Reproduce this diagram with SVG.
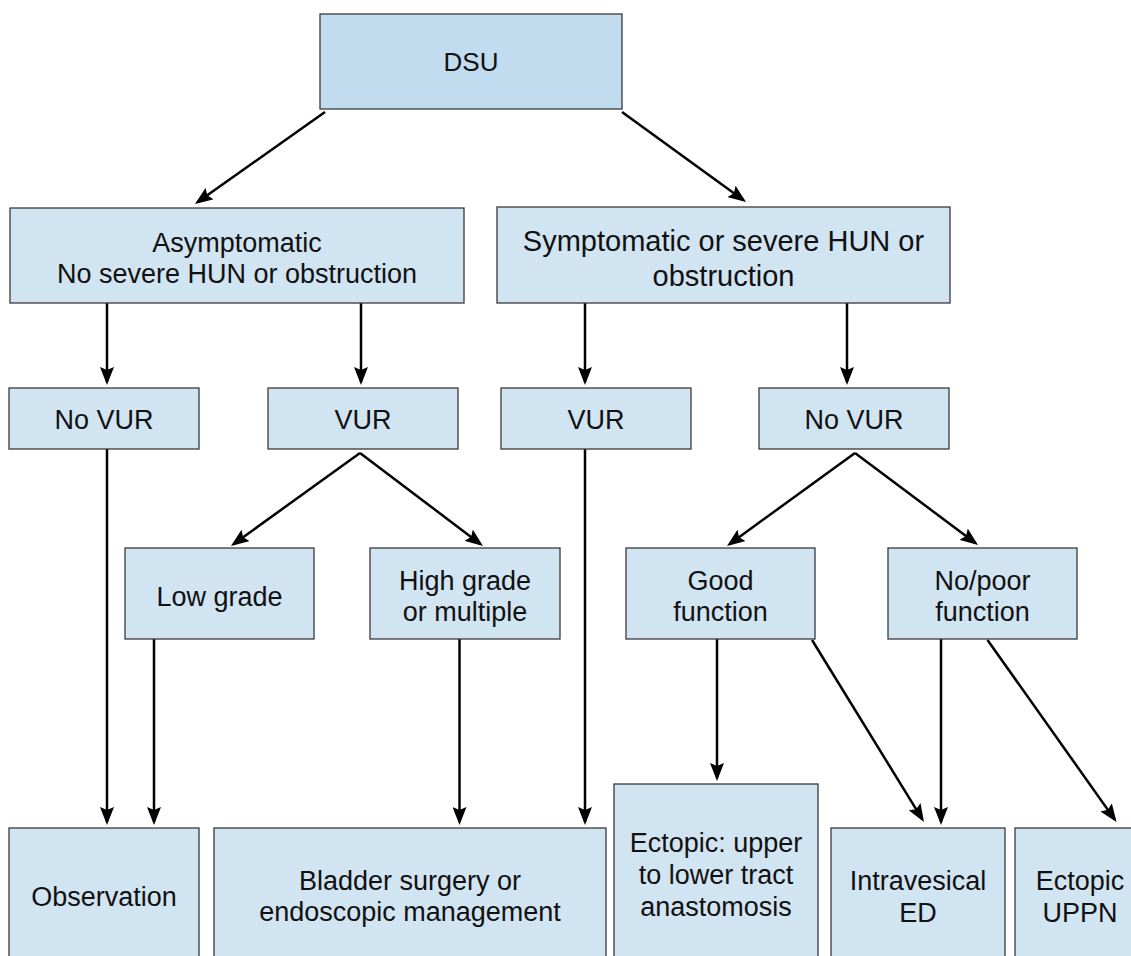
<svg xmlns="http://www.w3.org/2000/svg" width="1131" height="956" viewBox="0 0 1131 956">
<style>
.box{fill:#d1e4f2;stroke:#3a3a3a;stroke-width:1.3}
.top{fill:#c1dcee}
text{font-family:"Liberation Sans",Arial,Helvetica,sans-serif;font-size:27px;fill:#111;text-anchor:middle}
.big{font-size:29px}
.dsu{font-size:26px}
.edge{stroke:#000;stroke-width:2.5;fill:none;marker-end:url(#ah)}
</style>
<defs>
<marker id="ah" markerUnits="userSpaceOnUse" viewBox="0 0 18 14" refX="15" refY="7" markerWidth="18" markerHeight="14" orient="auto">
<path d="M0,0 L18,7 L0,14 L3,7 z" fill="#000"/>
</marker>
</defs>
<rect width="1131" height="956" fill="#fff"/>
<g id="connectors">
<line class="edge" x1="325" y1="112" x2="197.4" y2="202.3"/>
<line class="edge" x1="622" y1="112" x2="743.6" y2="200.2"/>
<line class="edge" x1="107" y1="303" x2="107" y2="382"/>
<line class="edge" x1="361" y1="303" x2="361" y2="382"/>
<line class="edge" x1="585" y1="303" x2="585" y2="382"/>
<line class="edge" x1="847" y1="303" x2="847" y2="382"/>
<line class="edge" x1="360" y1="453" x2="233.4" y2="544.2"/>
<line class="edge" x1="360" y1="453" x2="480.6" y2="544.2"/>
<line class="edge" x1="855" y1="453" x2="729.4" y2="544.2"/>
<line class="edge" x1="855" y1="453" x2="975.6" y2="543.2"/>
<line class="edge" x1="107" y1="449" x2="107" y2="822"/>
<line class="edge" x1="154" y1="639" x2="154" y2="822"/>
<line class="edge" x1="459.5" y1="639" x2="459.5" y2="822"/>
<line class="edge" x1="585" y1="449" x2="585" y2="822"/>
<line class="edge" x1="717" y1="639" x2="717" y2="778"/>
<line class="edge" x1="812" y1="640" x2="922.4" y2="819.4"/>
<line class="edge" x1="941" y1="639" x2="941" y2="822"/>
<line class="edge" x1="987.5" y1="640" x2="1114.8" y2="819.6"/>
</g>
<g id="n-dsu"><rect class="box top" x="320" y="14" width="302" height="95"/><text class="dsu" x="471" y="71">DSU</text></g>
<g id="n-asym"><rect class="box" x="10" y="208" width="454" height="95"/><text x="237" y="251.5">Asymptomatic</text><text x="237" y="282.5">No severe HUN or obstruction</text></g>
<g id="n-symp"><rect class="box" x="497" y="207" width="453" height="96"/><text class="big" x="723.5" y="250.5">Symptomatic or severe HUN or</text><text class="big" x="723.5" y="285.5">obstruction</text></g>
<g id="n-novur1"><rect class="box" x="9" y="388" width="190" height="61"/><text x="104" y="428.5">No VUR</text></g>
<g id="n-vur1"><rect class="box" x="268" y="388" width="190" height="61"/><text x="363" y="428.5">VUR</text></g>
<g id="n-vur2"><rect class="box" x="501" y="388" width="190" height="61"/><text x="596" y="428.5">VUR</text></g>
<g id="n-novur2"><rect class="box" x="759" y="388" width="190" height="61"/><text x="854" y="428.5">No VUR</text></g>
<g id="n-low"><rect class="box" x="125" y="548" width="189" height="91"/><text x="219.5" y="606">Low grade</text></g>
<g id="n-high"><rect class="box" x="370" y="548" width="190" height="91"/><text x="465" y="589.5">High grade</text><text x="465" y="621">or multiple</text></g>
<g id="n-good"><rect class="box" x="626" y="548" width="189" height="91"/><text x="720.5" y="589.5">Good</text><text x="720.5" y="621">function</text></g>
<g id="n-poor"><rect class="box" x="888" y="548" width="189" height="91"/><text x="982.5" y="589.5">No/poor</text><text x="982.5" y="621">function</text></g>
<g id="n-obs"><rect class="box" x="9" y="828" width="190" height="150"/><text x="104" y="905.5">Observation</text></g>
<g id="n-bladder"><rect class="box" x="214" y="828" width="392" height="150"/><text x="410" y="889.5">Bladder surgery or</text><text x="410" y="921">endoscopic management</text></g>
<g id="n-ectupper"><rect class="box" x="614" y="784" width="204" height="194"/><text x="716" y="852">Ectopic: upper</text><text x="716" y="884">to lower tract</text><text x="716" y="915.5">anastomosis</text></g>
<g id="n-intra"><rect class="box" x="831" y="828" width="174" height="150"/><text x="918" y="890">Intravesical</text><text x="918" y="922">ED</text></g>
<g id="n-uppn"><rect class="box" x="1015" y="828" width="130" height="150"/><text x="1080" y="890">Ectopic</text><text x="1080" y="922">UPPN</text></g>
</svg>
